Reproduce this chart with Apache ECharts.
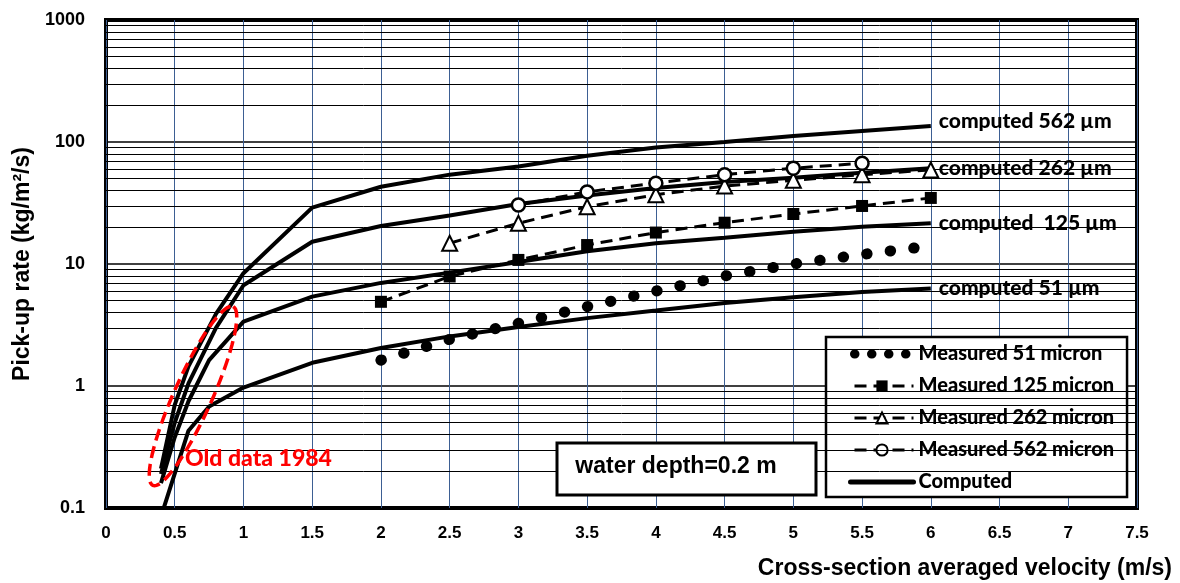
<!DOCTYPE html>
<html>
<head>
<meta charset="utf-8">
<script src="https://cdn.jsdelivr.net/npm/echarts@6/dist/echarts.min.js"></script>
<style>
  html, body { margin: 0; padding: 0; background: #fff; }
  #chart { width: 1180px; height: 583px; }
</style>
</head>
<body>
<div id="chart"></div>
<script>
// computed curves: [velocity m/s, pick-up rate kg/m2/s]
const computed562 = [[0.4, 0.21], [0.5, 0.7], [0.6, 1.45], [0.8, 3.9], [1, 8.4], [1.5, 29], [2, 43], [2.5, 54], [3, 63], [3.5, 77], [4, 90], [4.5, 100], [5, 112], [5.5, 123], [6, 135]];
const computed262 = [[0.4, 0.19], [0.5, 0.5], [0.6, 1.05], [0.8, 3.0], [1, 6.7], [1.5, 15.2], [2, 20.5], [2.5, 25], [3, 31], [3.5, 36.5], [4, 42], [4.5, 47], [5, 51], [5.5, 56], [6, 61]];
const computed125 = [[0.4, 0.16], [0.5, 0.38], [0.6, 0.75], [0.75, 1.63], [1, 3.37], [1.5, 5.4], [2, 7.0], [2.5, 8.5], [3, 10.4], [3.5, 12.7], [4, 14.8], [4.5, 16.4], [5, 18.4], [5.5, 20.2], [6, 21.6]];
const computed51 = [[0.4, 0.085], [0.6, 0.43], [0.75, 0.68], [1, 0.97], [1.5, 1.55], [2, 2.05], [2.5, 2.55], [3, 3.05], [3.5, 3.6], [4, 4.15], [4.5, 4.8], [5, 5.35], [5.5, 5.9], [6, 6.3]];

// measured
const measured51 = [[2, 1.63], [2.5, 2.41], [3, 3.27], [3.5, 4.47], [4, 6.0], [4.5, 7.97], [5, 10.0], [5.5, 11.97], [5.92, 13.7]];
const measured125 = [[2, 4.9], [2.5, 7.9], [3, 10.8], [3.5, 14.3], [4, 18.1], [4.5, 21.8], [5, 25.7], [5.5, 29.9], [6, 34.8]];
const measured262 = [[2.5, 14.8], [3, 21.6], [3.5, 29.5], [4, 37], [4.5, 43.5], [5, 48.5], [5.5, 54], [6, 59]];
const measured562 = [[3, 30.5], [3.5, 39], [4, 46], [4.5, 54], [5, 61], [5.5, 67]];

// minor log grid lines
const minorGrid = [0.2, 0.3, 0.4, 0.5, 0.6, 0.7, 0.8, 0.9, 2, 3, 4, 5, 6, 7, 8, 9, 20, 30, 40, 50, 60, 70, 80, 90, 200, 300, 400, 500, 600, 700, 800, 900];

var chartDom = document.getElementById("chart");
var myChart = echarts.init(chartDom);
var option;

var labelFont = "Lato";
var arialFont = "Liberation Sans";

function computedSeries(data, text, dy) {
  return {
    name: "Computed",
    type: "line",
    data: data,
    symbol: "none",
    z: 4,
    lineStyle: { color: "#000", width: 4 },
    itemStyle: { color: "#000" },
    endLabel: {
      show: true,
      formatter: text,
      color: "#000",
      fontFamily: labelFont,
      fontWeight: 900,
      fontSize: 21,
      distance: 8,
      offset: [0, dy || 0],
    },
  };
}

// ellipse outline around the old 1984 data (pixel space annotation)
var ellipsePts = [];
var theta = (-65.8 * Math.PI) / 180;
for (var i = 0; i <= 72; i++) {
  var t = (i / 72) * Math.PI * 2;
  ellipsePts.push([
    193 + 98 * Math.cos(t) * Math.cos(theta) - 19 * Math.sin(t) * Math.sin(theta),
    396 + 98 * Math.cos(t) * Math.sin(theta) + 19 * Math.sin(t) * Math.cos(theta),
  ]);
}

option = {
  animation: false,
  backgroundColor: "#fff",
  grid: {
    left: 106,
    right: 43,
    top: 20,
    bottom: 75,
    show: true,
    borderColor: "#000",
    borderWidth: 4,
    backgroundColor: "transparent",
  },
  xAxis: {
    type: "value",
    min: 0,
    max: 7.5,
    interval: 0.5,
    axisLine: { show: false },
    axisTick: { show: false },
    splitLine: { show: true, lineStyle: { color: "#3d5f93", width: 1 } },
    axisLabel: {
      margin: 17,
      color: "#000",
      fontFamily: arialFont,
      fontWeight: "bold",
      fontSize: 17,
    },
    name: "Cross-section averaged velocity (m/s)",
    nameLocation: "end",
    nameGap: 35,
    nameTextStyle: {
      align: "right",
      verticalAlign: "top",
      padding: [49, 0, 0, 0],
      color: "#000",
      fontFamily: arialFont,
      fontWeight: "bold",
      fontSize: 23,
    },
  },
  yAxis: {
    type: "log",
    logBase: 10,
    min: 0.1,
    max: 1000,
    axisLine: { show: false },
    axisTick: { show: false },
    splitLine: { show: true, lineStyle: { color: "#000", width: 1.5 } },
    axisLabel: {
      margin: 21,
      color: "#000",
      fontFamily: arialFont,
      fontWeight: "bold",
      fontSize: 18,
      formatter: function (v) {
        return String(v);
      },
    },
    name: "Pick-up rate (kg/m²/s)",
    nameLocation: "middle",
    nameGap: 69,
    nameTextStyle: {
      color: "#000",
      fontFamily: arialFont,
      fontWeight: "bold",
      fontSize: 23,
    },
  },
  legend: {
    orient: "vertical",
    left: 826,
    top: 337,
    padding: [7, 13, 5, 20],
    itemGap: 12,
    itemWidth: 63,
    itemHeight: 14,
    backgroundColor: "#fff",
    borderColor: "#000",
    borderWidth: 2.5,
    borderRadius: 0,
    lineStyle: { width: "inherit" },
    textStyle: {
      color: "#000",
      fontFamily: labelFont,
      fontWeight: 900,
      fontSize: 20,
      lineHeight: 20,
    },
    data: [
      {
        name: "Measured 51 micron",
        itemStyle: { opacity: 0 },
        lineStyle: { width: 9, type: [0.5, 16.5], cap: "round", dashOffset: -4 },
      },
      { name: "Measured 125 micron" },
      { name: "Measured 262 micron" },
      { name: "Measured 562 micron" },
      {
        name: "Computed",
        itemStyle: { opacity: 0 },
        lineStyle: { width: 5, type: "solid", cap: "round" },
      },
    ],
  },
  graphic: [
    {
      type: "polygon",
      z: 100,
      shape: { points: ellipsePts },
      style: { fill: "none", stroke: "#ff0000", lineWidth: 3.5, lineDash: [12, 6] },
    },
    {
      type: "text",
      z: 100,
      left: 185,
      top: 447,
      style: {
        text: "Old data 1984",
        fill: "#ff0000",
        font: "900 23px Lato",
      },
    },
    {
      type: "rect",
      z: 100,
      shape: { x: 557, y: 443, width: 259, height: 52 },
      style: { fill: "#fff", stroke: "#000", lineWidth: 3 },
    },
    {
      type: "text",
      z: 101,
      x: 676,
      y: 467,
      style: {
        text: "water depth=0.2 m",
        fill: "#000",
        font: "bold 23px 'Liberation Sans'",
        align: "center",
        verticalAlign: "middle",
      },
    },
  ],
  series: [
    {
      name: "grid",
      type: "line",
      data: [],
      z: 1,
      silent: true,
      markLine: {
        silent: true,
        symbol: ["none", "none"],
        label: { show: false },
        lineStyle: { color: "#000", width: 1, type: "solid" },
        emphasis: { disabled: true },
        data: minorGrid.map((v) => ({ yAxis: v })),
      },
    },
    computedSeries(computed562, "computed 562 µm", -5),
    computedSeries(computed262, "computed 262 µm"),
    computedSeries(computed125, "computed  125 µm"),
    computedSeries(computed51, "computed 51 µm"),
    {
      name: "Measured 51 micron",
      type: "line",
      data: measured51,
      symbol: "none",
      z: 5,
      itemStyle: { color: "#000" },
      lineStyle: { color: "#000", width: 11, type: [0.5, 23.2], cap: "round" },
    },
    {
      name: "Measured 125 micron",
      type: "line",
      data: measured125,
      symbol: "rect",
      symbolSize: 12,
      z: 5,
      itemStyle: { color: "#000" },
      lineStyle: { color: "#000", width: 3, type: [12, 7] },
    },
    {
      name: "Measured 262 micron",
      type: "line",
      data: measured262,
      symbol: "triangle",
      symbolSize: 15,
      z: 5,
      itemStyle: { color: "#fff", borderColor: "#000", borderWidth: 2 },
      lineStyle: { color: "#000", width: 3, type: [12, 7] },
    },
    {
      name: "Measured 562 micron",
      type: "line",
      data: measured562,
      symbol: "circle",
      symbolSize: 13,
      z: 5,
      itemStyle: { color: "#fff", borderColor: "#000", borderWidth: 2.5 },
      lineStyle: { color: "#000", width: 3, type: [12, 7] },
    },
  ],
};

myChart.setOption(option);
</script>
</body>
</html>
